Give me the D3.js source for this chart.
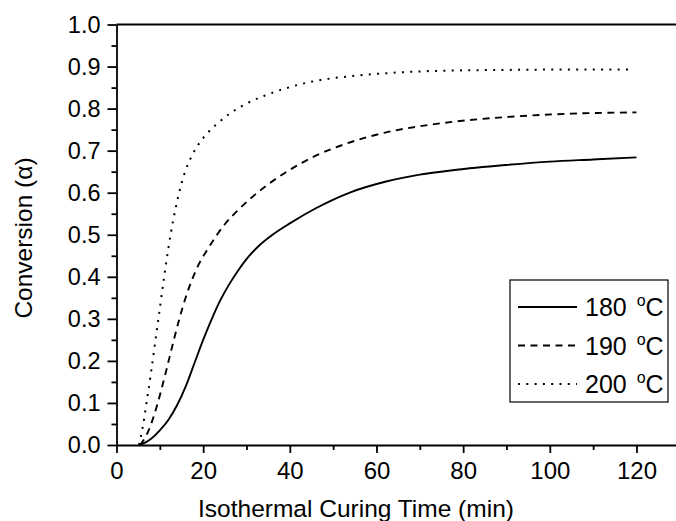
<!DOCTYPE html>
<html>
<head>
<meta charset="utf-8">
<script src="https://cdn.jsdelivr.net/npm/d3@7"></script>
<style>
  body { margin: 0; background: #fff; }
  text { font-family: "Liberation Sans", Arial, sans-serif; fill: #000; }
</style>
</head>
<body>
<div class="canvas"></div>
<script>
// curve data (time in min, conversion alpha)
const t180 = [5.4, 8, 10, 12, 14, 16, 18, 20, 22, 24, 26, 28, 30, 33, 36, 40, 46, 54, 62, 70, 78, 90, 100, 110, 120];
const a180 = [0, 0.015, 0.035, 0.06, 0.095, 0.14, 0.195, 0.25, 0.3, 0.345, 0.382, 0.414, 0.442, 0.475, 0.5, 0.527, 0.563, 0.601, 0.626, 0.643, 0.654, 0.666, 0.674, 0.679, 0.684];

const t190 = [5.4, 7, 8.5, 10, 11.5, 13, 14.5, 16, 17.5, 19, 21, 23, 25, 28, 31, 35, 39, 46, 54, 62, 70, 78, 90, 105, 120];
const a190 = [0, 0.025, 0.065, 0.118, 0.178, 0.24, 0.3, 0.352, 0.395, 0.43, 0.465, 0.497, 0.525, 0.558, 0.587, 0.62, 0.648, 0.688, 0.72, 0.743, 0.758, 0.769, 0.78, 0.788, 0.791];

const t200 = [5.2, 6, 7, 8, 9, 10, 11, 12, 13, 14, 15, 16, 17.5, 19, 21, 23, 26, 30, 34, 39, 46, 54, 62, 75, 90, 105, 118.5];
const a200 = [0, 0.04, 0.105, 0.175, 0.25, 0.325, 0.4, 0.47, 0.53, 0.58, 0.622, 0.655, 0.69, 0.716, 0.742, 0.762, 0.787, 0.812, 0.83, 0.848, 0.866, 0.877, 0.884, 0.89, 0.892, 0.893, 0.893];

const seriesNames = ['180', '190', '200'];
const xMajor = [0, 20, 40, 60, 80, 100, 120];
const xMinor = [10, 30, 50, 70, 90, 110, 130];
const yMajor = [0, 0.1, 0.2, 0.3, 0.4, 0.5, 0.6, 0.7, 0.8, 0.9, 1.0];
const yMinor = [0.05, 0.15, 0.25, 0.35, 0.45, 0.55, 0.65, 0.75, 0.85, 0.95];

const width = 676, height = 521;
const plot = { left: 116.5, top: 24.5, bottom: 445, right: 679.8 };

const svg = d3.select('.canvas')
  .append('svg')
  .attr('width', width)
  .attr('height', height)

svg.append('rect').attr('width', width).attr('height', height).attr('fill', '#fff')

const x = d3.scaleLinear().domain([0, 130]).range([plot.left, plot.right]);
const y = d3.scaleLinear().domain([0, 1]).range([plot.bottom, plot.top]);

// x axis, major + minor ticks pointing outward
const xAxis = svg.append('g')
  .attr('transform', `translate(0, ${plot.bottom})`)
  .call(d3.axisBottom(x).tickValues(xMajor).tickSize(8).tickPadding(9).tickSizeOuter(0))
xAxis.selectAll('text').style('font-size', '24px')

svg.append('g')
  .attr('transform', `translate(0, ${plot.bottom})`)
  .call(d3.axisBottom(x).tickValues(xMinor).tickSize(5).tickFormat('').tickSizeOuter(0))
  .select('.domain').remove()

const yAxis = svg.append('g')
  .attr('transform', `translate(${plot.left}, 0)`)
  .call(d3.axisLeft(y).tickValues(yMajor).tickSize(9).tickPadding(7).tickSizeOuter(0).tickFormat(d3.format('.1f')))
yAxis.selectAll('text').style('font-size', '23.5px')

svg.append('g')
  .attr('transform', `translate(${plot.left}, 0)`)
  .call(d3.axisLeft(y).tickValues(yMinor).tickSize(5).tickFormat('').tickSizeOuter(0))
  .select('.domain').remove()

svg.selectAll('.domain, .tick line').attr('stroke', '#000').attr('stroke-width', 1.8)

// frame top
svg.append('line')
  .attr('x1', plot.left).attr('x2', plot.right)
  .attr('y1', plot.top).attr('y2', plot.top)
  .attr('stroke', '#000').attr('stroke-width', 1.8)

// axis titles
svg.append('text')
  .attr('x', 356).attr('y', 517)
  .attr('text-anchor', 'middle')
  .style('font-size', '24.5px')
  .text('Isothermal Curing Time (min)')

svg.append('text')
  .attr('transform', 'translate(32, 238) rotate(-90)')
  .attr('text-anchor', 'middle')
  .style('font-size', '24.5px')
  .text('Conversion (α)')

// curves
const styles = { '180': null, '190': '7,5.5', '200': '2,6.3' };
const series = [
  { name: '180', t: t180, a: a180 },
  { name: '190', t: t190, a: a190 },
  { name: '200', t: t200, a: a200 }
];

const line = d3.line()
  .x(d => x(d[0]))
  .y(d => y(d[1]))
  .curve(d3.curveMonotoneX)

svg.append('g').selectAll('path')
  .data(series)
  .enter()
  .append('path')
  .attr('d', d => line(d.t.map((v, i) => [v, d.a[i]])))
  .attr('fill', 'none')
  .attr('stroke', '#000')
  .attr('stroke-width', d => d.name === '200' ? 2 : 1.9)
  .attr('stroke-dasharray', d => styles[d.name])

// legend
const legend = svg.append('g').attr('transform', 'translate(510, 280)')
legend.append('rect')
  .attr('width', 158).attr('height', 122)
  .attr('fill', '#fff').attr('stroke', '#000').attr('stroke-width', 1.2)

const rows = legend.selectAll('g.row')
  .data(seriesNames)
  .enter()
  .append('g')
  .attr('transform', (d, i) => `translate(0, ${27 + i * 38.5})`)

rows.append('line')
  .attr('x1', 8).attr('x2', 67)
  .attr('stroke', '#000').attr('stroke-width', 1.9)
  .attr('stroke-dasharray', d => styles[d])

const label = rows.append('text')
  .attr('x', 75).attr('y', 9)
  .style('font-size', '25px')
label.append('tspan').text(d => d + ' ')
label.append('tspan').attr('dx', 3).attr('dy', -10).style('font-size', '16px').text('o')
label.append('tspan').attr('dy', 10).text('C')
</script>
</body>
</html>
